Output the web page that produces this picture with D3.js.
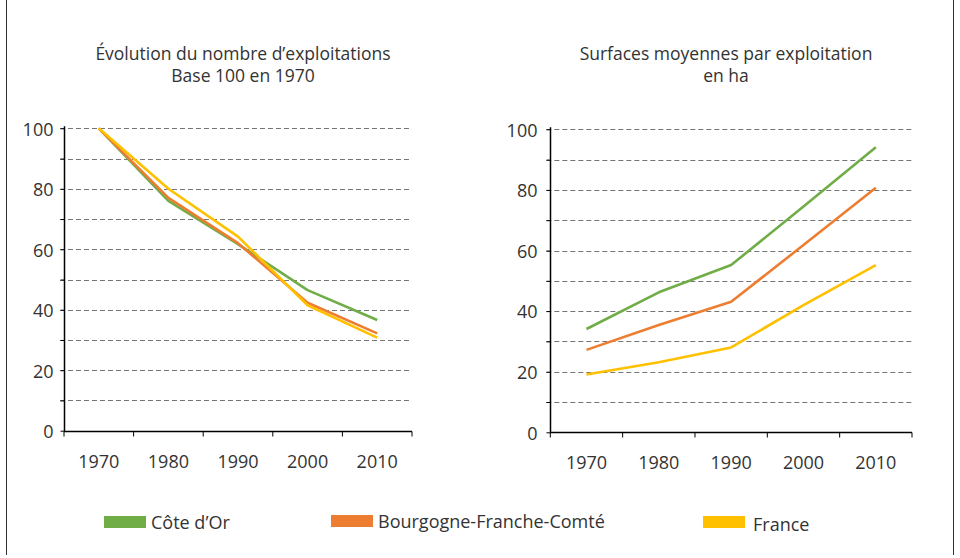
<!DOCTYPE html>
<html>
<head>
<meta charset="utf-8">
<script src="https://cdn.jsdelivr.net/npm/d3@7"></script>
<style>
  body { margin: 0; background: #fff; }
  text { font-family: "Open Sans", "Noto Sans", sans-serif; fill: #333; }
</style>
</head>
<body>
<svg id="chart" width="960" height="558"></svg>
<script>
// years on the x axis
const years = ['1970', '1980', '1990', '2000', '2010'];
const yTicks = [0, 10, 20, 30, 40, 50, 60, 70, 80, 90, 100];

// nombre d'exploitations, base 100 en 1970
const exploitCoteDor = [100, 76, 61.7, 46.5, 36.6];
const exploitBfc = [100, 77, 62, 42.3, 32.2];
const exploitFrance = [100, 80, 64.2, 41.5, 30.8];

// surface moyenne par exploitation (ha)
const surfCoteDor = [34.1, 46.2, 55.2, 74.5, 94.1];
const surfBfc = [27.2, 35.4, 43.1, 61.8, 80.7];
const surfFrance = [19.1, 23.1, 28.0, 42, 55.2];

const seriesNames = ['Côte d\u2019Or', 'Bourgogne-Franche-Comté', 'France'];
const seriesColors = ['#70AD47', '#ED7D31', '#FFC000'];

const svg = d3.select('#chart');

// frame
svg.append('line').attr('x1', 6.5).attr('x2', 6.5).attr('y1', 0).attr('y2', 555)
  .style('stroke', '#333').style('stroke-width', 1);
svg.append('line').attr('x1', 953.5).attr('x2', 953.5).attr('y1', 0).attr('y2', 555)
  .style('stroke', '#333').style('stroke-width', 1);

function drawPanel(cfg) {
  const x = d3.scaleBand().domain(years).range([cfg.x0, cfg.x1]);
  const y = d3.scaleLinear().domain([0, 100]).range([cfg.yBottom, cfg.yTop]);
  const g = svg.append('g');

  // title
  g.selectAll('text.title')
    .data(cfg.title)
    .enter().append('text')
    .attr('class', 'title')
    .attr('x', cfg.titleX)
    .attr('y', (d, i) => 60 + i * 22)
    .attr('text-anchor', 'middle')
    .style('font-size', '17.5px')
    .text((d) => d);

  // dashed grid
  g.selectAll('line.grid')
    .data(yTicks.filter((t) => t > 0))
    .enter().append('line')
    .attr('class', 'grid')
    .attr('x1', cfg.x0 - 4)
    .attr('x2', cfg.x1)
    .attr('y1', (d) => Math.round(y(d)) + 0.5)
    .attr('y2', (d) => Math.round(y(d)) + 0.5)
    .style('stroke', '#777')
    .style('stroke-width', 1)
    .style('stroke-dasharray', '5,3');

  // y axis
  const yAxis = g.append('g')
    .attr('transform', 'translate(' + (Math.round(cfg.x0) + 0.5) + ',0)')
    .call(d3.axisLeft(y).tickValues(yTicks).tickSize(4).tickFormat((d) => d % 20 === 0 ? d : ''));
  yAxis.select('.domain').attr('d', 'M0,' + (cfg.yTop - 2) + 'V' + (Math.round(cfg.yBottom) + 0.5))
    .style('stroke', '#000').style('stroke-width', 1.5);
  yAxis.selectAll('.tick line').style('stroke', '#000');
  yAxis.selectAll('.tick text')
    .attr('x', -cfg.labelGap)
    .attr('dy', '0.38em')
    .style('font-size', '18px')
    .style('font-family', '"Open Sans", "Noto Sans", sans-serif')
    .style('fill', '#333');

  // x axis with ticks at band edges
  const xAxis = g.append('g')
    .attr('transform', 'translate(0,' + (Math.round(cfg.yBottom) + 0.5) + ')');
  xAxis.append('line')
    .attr('x1', cfg.x0).attr('x2', cfg.x1)
    .style('stroke', '#000').style('stroke-width', 1.5);
  const edges = years.map((yr) => x(yr)).concat([cfg.x1]);
  xAxis.selectAll('line.tk')
    .data(edges)
    .enter().append('line')
    .attr('class', 'tk')
    .attr('x1', (d) => d).attr('x2', (d) => d)
    .attr('y1', 0).attr('y2', 5)
    .style('stroke', '#000');
  xAxis.selectAll('text')
    .data(years)
    .enter().append('text')
    .attr('x', (d) => x(d) + x.bandwidth() / 2)
    .attr('y', 36)
    .attr('text-anchor', 'middle')
    .style('font-size', '18px')
    .text((d) => d);

  // lines
  const line = d3.line()
    .x((d, i) => x(years[i]) + x.bandwidth() / 2)
    .y((d) => y(d));
  g.selectAll('path.series')
    .data(cfg.series)
    .enter().append('path')
    .attr('class', 'series')
    .attr('d', (d) => line(d))
    .style('fill', 'none')
    .style('stroke', (d, i) => seriesColors[i])
    .style('stroke-width', 2.6)
    .style('stroke-linejoin', 'round');
}

drawPanel({
  x0: 64, x1: 412, yTop: 128.3, yBottom: 430.7, labelGap: 11, titleX: 243,
  title: ['Évolution du nombre d\u2019exploitations', 'Base 100 en 1970'],
  series: [exploitCoteDor, exploitBfc, exploitFrance]
});

drawPanel({
  x0: 550.3, x1: 912, yTop: 129.3, yBottom: 432.3, labelGap: 13, titleX: 726,
  title: ['Surfaces moyennes par exploitation', 'en ha'],
  series: [surfCoteDor, surfBfc, surfFrance]
});

// legend
const legendX = [104, 331, 703];
const legendTextX = [151, 378, 753];
const legendY = [516, 515, 516];
const leg = svg.append('g');
leg.selectAll('rect')
  .data(seriesNames)
  .enter().append('rect')
  .attr('x', (d, i) => legendX[i])
  .attr('y', (d, i) => legendY[i])
  .attr('width', 42)
  .attr('height', 12)
  .style('fill', (d, i) => seriesColors[i]);
leg.selectAll('text')
  .data(seriesNames)
  .enter().append('text')
  .attr('x', (d, i) => legendTextX[i])
  .attr('y', (d, i) => [529, 528, 531][i])
  .style('font-size', '18px')
  .text((d) => d);
</script>
</body>
</html>
